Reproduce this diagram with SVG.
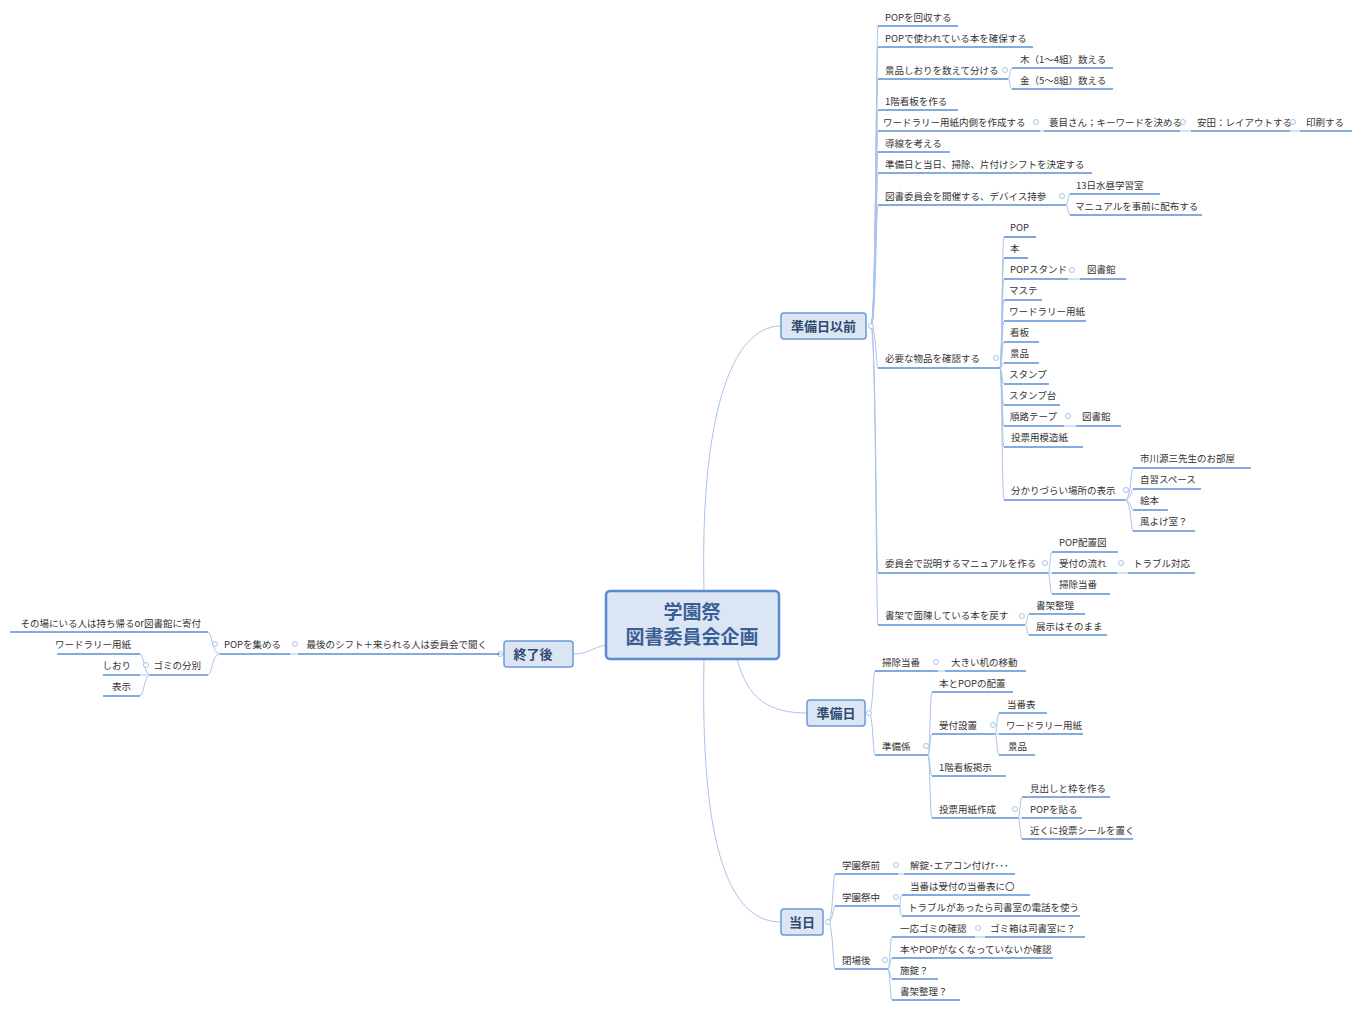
<svg xmlns="http://www.w3.org/2000/svg" width="1361" height="1010" viewBox="0 0 1361 1010">
<style>
text{font-family:"Noto Sans CJK JP","Noto Sans",sans-serif;fill:#333}
.t{font-size:9.5px}
.e{text-anchor:end}
.u{stroke:#5b8fd6;stroke-width:1.6}
.c{stroke:#a9c4ea;stroke-width:1;fill:none}
.d{fill:#fff;stroke:#a9c4ea;stroke-width:1}
.box{fill:#dbe5f3;stroke:#6b9ad8;stroke-width:1.5}
.bt{font-size:13px;font-weight:bold;fill:#2f4a6f;text-anchor:middle}
</style>
<rect width="1361" height="1010" fill="#fff"/>
<g id="connectors">
<path class="c" d="M704,591 C700,420 730,326 781,326"/>
<path class="c" d="M704,659 C700,850 730,922 781,922"/>
<path class="c" d="M737,659 C748,700 770,713 807,713"/>
<path class="c" d="M606,645 C590,648 590,654 573,654"/>
<path class="c" d="M504,654 L500,654"/>
<!-- A spine -->
<g>
<path class="c" d="M871,326 C876,326 876,26 878,26"/>
<path class="c" d="M871,326 C876,326 876,47 878,47"/>
<path class="c" d="M871,326 C876,326 876,79 878,79"/>
<path class="c" d="M871,326 C876,326 876,110 878,110"/>
<path class="c" d="M871,326 C876,326 876,131 878,131"/>
<path class="c" d="M871,326 C876,326 876,152 878,152"/>
<path class="c" d="M871,326 C876,326 876,173 878,173"/>
<path class="c" d="M871,326 C876,326 876,205 878,205"/>
<path class="c" d="M871,326 C876,326 876,368 878,368"/>
<path class="c" d="M871,326 C876,326 876,573 878,573"/>
<path class="c" d="M871,326 C876,326 876,625 878,625"/>
</g>
<path class="c" d="M1008,79 C1010,79 1010,68 1012,68"/>
<path class="c" d="M1008,79 C1010,79 1010,89 1012,89"/>
<path class="c" d="M1040,131 L1044,131 M1180,131 L1191,131 M1290,131 L1300,131"/>
<path class="c" d="M1066,205 C1068,205 1068,194 1070,194"/>
<path class="c" d="M1066,205 C1068,205 1068,215 1070,215"/>
<g>
<path class="c" d="M1000,368 C1002,368 1002,237 1004,237"/>
<path class="c" d="M1000,368 C1002,368 1002,258 1004,258"/>
<path class="c" d="M1000,368 C1002,368 1002,279 1004,279"/>
<path class="c" d="M1000,368 C1002,368 1002,300 1004,300"/>
<path class="c" d="M1000,368 C1002,368 1002,321 1004,321"/>
<path class="c" d="M1000,368 C1002,368 1002,342 1004,342"/>
<path class="c" d="M1000,368 C1002,368 1002,363 1004,363"/>
<path class="c" d="M1000,368 C1002,368 1002,384 1004,384"/>
<path class="c" d="M1000,368 C1002,368 1002,405 1004,405"/>
<path class="c" d="M1000,368 C1002,368 1002,426 1004,426"/>
<path class="c" d="M1000,368 C1002,368 1002,447 1004,447"/>
<path class="c" d="M1000,368 C1002,368 1002,500 1004,500"/>
</g>
<path class="c" d="M1068,279 L1080,279 M1064,426 L1076,426"/>
<path class="c" d="M1125,500 C1131,500 1131,468 1133,468"/>
<path class="c" d="M1125,500 C1131,500 1131,489 1133,489"/>
<path class="c" d="M1125,500 C1131,500 1131,510 1133,510"/>
<path class="c" d="M1125,500 C1131,500 1131,531 1133,531"/>
<path class="c" d="M1048,573 C1050,573 1050,552 1052,552"/>
<path class="c" d="M1048,573 L1052,573 M1117,573 L1128,573"/>
<path class="c" d="M1048,573 C1050,573 1050,594 1052,594"/>
<path class="c" d="M1025,625 C1027,625 1027,614 1029,614"/>
<path class="c" d="M1025,625 C1027,625 1027,635 1029,635"/>
<!-- B -->
<path class="c" d="M869,713 C873,713 873,671 875,671"/>
<path class="c" d="M869,713 C873,713 873,755 875,755"/>
<path class="c" d="M938,671 L945,671"/>
<path class="c" d="M928,755 C930,755 930,692 932,692"/>
<path class="c" d="M928,755 C930,755 930,734 932,734"/>
<path class="c" d="M928,755 C930,755 930,776 932,776"/>
<path class="c" d="M928,755 C930,755 930,818 932,818"/>
<path class="c" d="M995,734 C997,734 997,713 999,713"/>
<path class="c" d="M995,734 L999,734"/>
<path class="c" d="M995,734 C997,734 997,755 999,755"/>
<path class="c" d="M1018,818 C1020,818 1020,797 1022,797"/>
<path class="c" d="M1018,818 L1022,818"/>
<path class="c" d="M1018,818 C1020,818 1020,839 1022,839"/>
<!-- C -->
<path class="c" d="M828,922 C833,922 833,874 835,874"/>
<path class="c" d="M828,922 C833,922 833,906 835,906"/>
<path class="c" d="M828,922 C833,922 833,969 835,969"/>
<path class="c" d="M898,874 L904,874"/>
<path class="c" d="M900,906 C900,906 900,895 902,895"/>
<path class="c" d="M900,906 C900,906 900,916 902,916"/>
<path class="c" d="M888,969 C890,969 890,937 892,937"/>
<path class="c" d="M888,969 C890,969 890,958 892,958"/>
<path class="c" d="M888,969 C890,969 890,979 892,979"/>
<path class="c" d="M888,969 C890,969 890,1000 892,1000"/>
<path class="c" d="M975,937 L985,937"/>
<!-- D -->
<path class="c" d="M298,654 L290,654"/>
<path class="c" d="M220,654 C212,654 212,632 208,632"/>
<path class="c" d="M220,654 C212,654 212,675 208,675"/>
<path class="c" d="M150,675 C144,675 144,654 140,654"/>
<path class="c" d="M150,675 L140,675"/>
<path class="c" d="M150,675 C144,675 144,696 140,696"/>
</g>

<g id="center">
<rect x="606" y="591" width="173" height="68" rx="4" fill="#dbe5f3" stroke="#5a8ad0" stroke-width="2.5"/>
<text x="692" y="619" font-size="19" font-weight="bold" fill="#3a5f94" text-anchor="middle" style="fill:#3a5f94">学園祭</text>
<text x="692" y="644" font-size="19" font-weight="bold" text-anchor="middle" style="fill:#3a5f94">図書委員会企画</text>
</g>
<g id="b-junbibi-izen"><rect class="box" x="781" y="313" width="85" height="26" rx="3"/><text class="bt" x="823.5" y="331">準備日以前</text><circle class="d" cx="871" cy="326" r="2.5"/></g>
<g id="b-junbibi"><rect class="box" x="807" y="700" width="58" height="26" rx="3"/><text class="bt" x="836" y="718">準備日</text><circle class="d" cx="869" cy="713" r="2.5"/></g>
<g id="b-toujitsu"><rect class="box" x="781" y="909" width="42" height="26" rx="3"/><text class="bt" x="802" y="927">当日</text><circle class="d" cx="828" cy="922" r="2.5"/></g>
<g id="b-shuryo"><rect class="box" x="504" y="641" width="69" height="26" rx="3"/><text class="bt" x="533" y="659">終了後</text><circle class="d" cx="500" cy="654" r="2.5"/></g>

<g id="a-nodes">
<g id="a1"><line class="u" x1="878" y1="26" x2="958" y2="26"/><text class="t" x="885" y="21">POPを回収する</text></g>
<g id="a2"><line class="u" x1="878" y1="47" x2="1033" y2="47"/><text class="t" x="885" y="42">POPで使われている本を確保する</text></g>
<g id="a3"><line class="u" x1="878" y1="79" x2="1008" y2="79"/><text class="t" x="885" y="74">景品しおりを数えて分ける</text><circle class="d" cx="1005" cy="70" r="2.5"/></g>
<g id="a3a"><line class="u" x1="1012" y1="68" x2="1113" y2="68"/><text class="t" x="1020" y="63">木（1～4組）数える</text></g>
<g id="a3b"><line class="u" x1="1012" y1="89" x2="1113" y2="89"/><text class="t" x="1020" y="84">金（5～8組）数える</text></g>
<g id="a4"><line class="u" x1="878" y1="110" x2="958" y2="110"/><text class="t" x="885" y="105">1階看板を作る</text></g>
<g id="a5"><line class="u" x1="878" y1="131" x2="1040" y2="131"/><text class="t" x="883" y="126">ワードラリー用紙内側を作成する</text><circle class="d" cx="1036" cy="122" r="2.5"/></g>
<g id="a5a"><line class="u" x1="1044" y1="131" x2="1180" y2="131"/><text class="t" x="1049" y="126">蓑目さん；キーワードを決める</text><circle class="d" cx="1183" cy="122" r="2.5"/></g>
<g id="a5b"><line class="u" x1="1191" y1="131" x2="1290" y2="131"/><text class="t" x="1197" y="126">安田：レイアウトする</text><circle class="d" cx="1293" cy="122" r="2.5"/></g>
<g id="a5c"><line class="u" x1="1300" y1="131" x2="1352" y2="131"/><text class="t" x="1306" y="126">印刷する</text></g>
<g id="a6"><line class="u" x1="878" y1="152" x2="950" y2="152"/><text class="t" x="885" y="147">導線を考える</text></g>
<g id="a7"><line class="u" x1="878" y1="173" x2="1092" y2="173"/><text class="t" x="885" y="168">準備日と当日、掃除、片付けシフトを決定する</text></g>
<g id="a8"><line class="u" x1="878" y1="205" x2="1066" y2="205"/><text class="t" x="885" y="200">図書委員会を開催する、デバイス持参</text><circle class="d" cx="1062" cy="196" r="2.5"/></g>
<g id="a8a"><line class="u" x1="1070" y1="194" x2="1160" y2="194"/><text class="t" x="1076" y="189">13日水昼学習室</text></g>
<g id="a8b"><line class="u" x1="1070" y1="215" x2="1202" y2="215"/><text class="t" x="1075" y="210">マニュアルを事前に配布する</text></g>
<g id="a9"><line class="u" x1="878" y1="368" x2="1000" y2="368"/><text class="t" x="885" y="362">必要な物品を確認する</text><circle class="d" cx="996" cy="358" r="2.5"/></g>
<g id="a9-1"><line class="u" x1="1004" y1="237" x2="1036" y2="237"/><text class="t" x="1010" y="231">POP</text></g>
<g id="a9-2"><line class="u" x1="1004" y1="258" x2="1028" y2="258"/><text class="t" x="1010" y="252">本</text></g>
<g id="a9-3"><line class="u" x1="1004" y1="279" x2="1068" y2="279"/><text class="t" x="1010" y="273">POPスタンド</text><circle class="d" cx="1072" cy="270" r="2.5"/></g>
<g id="a9-3a"><line class="u" x1="1080" y1="279" x2="1126" y2="279"/><text class="t" x="1087" y="273">図書館</text></g>
<g id="a9-4"><line class="u" x1="1004" y1="300" x2="1042" y2="300"/><text class="t" x="1009" y="294">マステ</text></g>
<g id="a9-5"><line class="u" x1="1004" y1="321" x2="1086" y2="321"/><text class="t" x="1009" y="315">ワードラリー用紙</text></g>
<g id="a9-6"><line class="u" x1="1004" y1="342" x2="1039" y2="342"/><text class="t" x="1010" y="336">看板</text></g>
<g id="a9-7"><line class="u" x1="1004" y1="363" x2="1039" y2="363"/><text class="t" x="1010" y="357">景品</text></g>
<g id="a9-8"><line class="u" x1="1004" y1="384" x2="1049" y2="384"/><text class="t" x="1009" y="378">スタンプ</text></g>
<g id="a9-9"><line class="u" x1="1004" y1="405" x2="1060" y2="405"/><text class="t" x="1009" y="399">スタンプ台</text></g>
<g id="a9-10"><line class="u" x1="1004" y1="426" x2="1064" y2="426"/><text class="t" x="1010" y="420">順路テープ</text><circle class="d" cx="1068" cy="416" r="2.5"/></g>
<g id="a9-10a"><line class="u" x1="1076" y1="426" x2="1121" y2="426"/><text class="t" x="1082" y="420">図書館</text></g>
<g id="a9-11"><line class="u" x1="1004" y1="447" x2="1083" y2="447"/><text class="t" x="1011" y="441">投票用模造紙</text></g>
<g id="a9-12"><line class="u" x1="1004" y1="500" x2="1125" y2="500"/><text class="t" x="1011" y="494">分かりづらい場所の表示</text><circle class="d" cx="1126" cy="490" r="2.5"/></g>
<g id="a9-12a"><line class="u" x1="1133" y1="468" x2="1251" y2="468"/><text class="t" x="1140" y="462">市川源三先生のお部屋</text></g>
<g id="a9-12b"><line class="u" x1="1133" y1="489" x2="1201" y2="489"/><text class="t" x="1140" y="483">自習スペース</text></g>
<g id="a9-12c"><line class="u" x1="1133" y1="510" x2="1168" y2="510"/><text class="t" x="1140" y="504">絵本</text></g>
<g id="a9-12d"><line class="u" x1="1133" y1="531" x2="1195" y2="531"/><text class="t" x="1140" y="525">風よけ室？</text></g>
<g id="a10"><line class="u" x1="878" y1="573" x2="1048" y2="573"/><text class="t" x="885" y="567">委員会で説明するマニュアルを作る</text><circle class="d" cx="1045" cy="563" r="2.5"/></g>
<g id="a10a"><line class="u" x1="1052" y1="552" x2="1118" y2="552"/><text class="t" x="1059" y="546">POP配置図</text></g>
<g id="a10b"><line class="u" x1="1052" y1="573" x2="1117" y2="573"/><text class="t" x="1059" y="567">受付の流れ</text><circle class="d" cx="1121" cy="563" r="2.5"/></g>
<g id="a10b1"><line class="u" x1="1128" y1="573" x2="1195" y2="573"/><text class="t" x="1133" y="567">トラブル対応</text></g>
<g id="a10c"><line class="u" x1="1052" y1="594" x2="1110" y2="594"/><text class="t" x="1059" y="588">掃除当番</text></g>
<g id="a11"><line class="u" x1="878" y1="625" x2="1025" y2="625"/><text class="t" x="885" y="619">書架で面陳している本を戻す</text><circle class="d" cx="1022" cy="616" r="2.5"/></g>
<g id="a11a"><line class="u" x1="1029" y1="614" x2="1085" y2="614"/><text class="t" x="1036" y="609">書架整理</text></g>
<g id="a11b"><line class="u" x1="1029" y1="635" x2="1107" y2="635"/><text class="t" x="1036" y="630">展示はそのまま</text></g>
</g>

<g id="b-nodes">
<g id="b1"><line class="u" x1="875" y1="671" x2="938" y2="671"/><text class="t" x="882" y="666">掃除当番</text><circle class="d" cx="936" cy="662" r="2.5"/></g>
<g id="b1a"><line class="u" x1="945" y1="671" x2="1026" y2="671"/><text class="t" x="951" y="666">大きい机の移動</text></g>
<g id="b2"><line class="u" x1="875" y1="755" x2="928" y2="755"/><text class="t" x="882" y="750">準備係</text><circle class="d" cx="926" cy="746" r="2.5"/></g>
<g id="b2a"><line class="u" x1="932" y1="692" x2="1013" y2="692"/><text class="t" x="939" y="687">本とPOPの配置</text></g>
<g id="b2b"><line class="u" x1="932" y1="734" x2="995" y2="734"/><text class="t" x="939" y="729">受付設置</text><circle class="d" cx="993" cy="725" r="2.5"/></g>
<g id="b2b1"><line class="u" x1="999" y1="713" x2="1047" y2="713"/><text class="t" x="1007" y="708">当番表</text></g>
<g id="b2b2"><line class="u" x1="999" y1="734" x2="1083" y2="734"/><text class="t" x="1006" y="729">ワードラリー用紙</text></g>
<g id="b2b3"><line class="u" x1="999" y1="755" x2="1035" y2="755"/><text class="t" x="1008" y="750">景品</text></g>
<g id="b2c"><line class="u" x1="932" y1="776" x2="1006" y2="776"/><text class="t" x="939" y="771">1階看板掲示</text></g>
<g id="b2d"><line class="u" x1="932" y1="818" x2="1018" y2="818"/><text class="t" x="939" y="813">投票用紙作成</text><circle class="d" cx="1015" cy="809" r="2.5"/></g>
<g id="b2d1"><line class="u" x1="1022" y1="797" x2="1110" y2="797"/><text class="t" x="1030" y="792">見出しと枠を作る</text></g>
<g id="b2d2"><line class="u" x1="1022" y1="818" x2="1082" y2="818"/><text class="t" x="1030" y="813">POPを貼る</text></g>
<g id="b2d3"><line class="u" x1="1022" y1="839" x2="1133" y2="839"/><text class="t" x="1030" y="834">近くに投票シールを置く</text></g>
</g>

<g id="c-nodes">
<g id="c1"><line class="u" x1="835" y1="874" x2="898" y2="874"/><text class="t" x="842" y="869">学園祭前</text><circle class="d" cx="896" cy="865" r="2.5"/></g>
<g id="c1a"><line class="u" x1="904" y1="874" x2="1015" y2="874"/><text class="t" x="910" y="869">解錠･エアコン付けr･･･</text></g>
<g id="c2"><line class="u" x1="835" y1="906" x2="900" y2="906"/><text class="t" x="842" y="901">学園祭中</text><circle class="d" cx="896" cy="897" r="2.5"/></g>
<g id="c2a"><line class="u" x1="902" y1="895" x2="1030" y2="895"/><text class="t" x="910" y="890">当番は受付の当番表に〇</text></g>
<g id="c2b"><line class="u" x1="902" y1="916" x2="1080" y2="916"/><text class="t" x="908" y="911">トラブルがあったら司書室の電話を使う</text></g>
<g id="c3"><line class="u" x1="835" y1="969" x2="888" y2="969"/><text class="t" x="842" y="964">閉場後</text><circle class="d" cx="885" cy="960" r="2.5"/></g>
<g id="c3a"><line class="u" x1="892" y1="937" x2="975" y2="937"/><text class="t" x="900" y="932">一応ゴミの確認</text><circle class="d" cx="978" cy="928" r="2.5"/></g>
<g id="c3a1"><line class="u" x1="985" y1="937" x2="1085" y2="937"/><text class="t" x="990" y="932">ゴミ箱は司書室に？</text></g>
<g id="c3b"><line class="u" x1="892" y1="958" x2="1053" y2="958"/><text class="t" x="900" y="953">本やPOPがなくなっていないか確認</text></g>
<g id="c3c"><line class="u" x1="892" y1="979" x2="938" y2="979"/><text class="t" x="900" y="974">施錠？</text></g>
<g id="c3d"><line class="u" x1="892" y1="1000" x2="960" y2="1000"/><text class="t" x="900" y="995">書架整理？</text></g>
</g>

<g id="d-nodes">
<g id="d1"><line class="u" x1="298" y1="654" x2="500" y2="654"/><text class="t e" x="487" y="648">最後のシフト＋来られる人は委員会で聞く</text><circle class="d" cx="295" cy="644" r="2.5"/></g>
<g id="d2"><line class="u" x1="220" y1="654" x2="290" y2="654"/><text class="t e" x="281" y="648">POPを集める</text><circle class="d" cx="215" cy="644" r="2.5"/></g>
<g id="d2a"><line class="u" x1="10" y1="632" x2="208" y2="632"/><text class="t e" x="201" y="627">その場にいる人は持ち帰るor図書館に寄付</text></g>
<g id="d2b"><line class="u" x1="150" y1="675" x2="208" y2="675"/><text class="t e" x="201" y="669">ゴミの分別</text><circle class="d" cx="146" cy="665" r="2.5"/></g>
<g id="d2b1"><line class="u" x1="57" y1="654" x2="140" y2="654"/><text class="t e" x="131" y="648">ワードラリー用紙</text></g>
<g id="d2b2"><line class="u" x1="103" y1="675" x2="140" y2="675"/><text class="t e" x="131" y="669">しおり</text></g>
<g id="d2b3"><line class="u" x1="103" y1="696" x2="140" y2="696"/><text class="t e" x="131" y="690">表示</text></g>
</g>
</svg>
